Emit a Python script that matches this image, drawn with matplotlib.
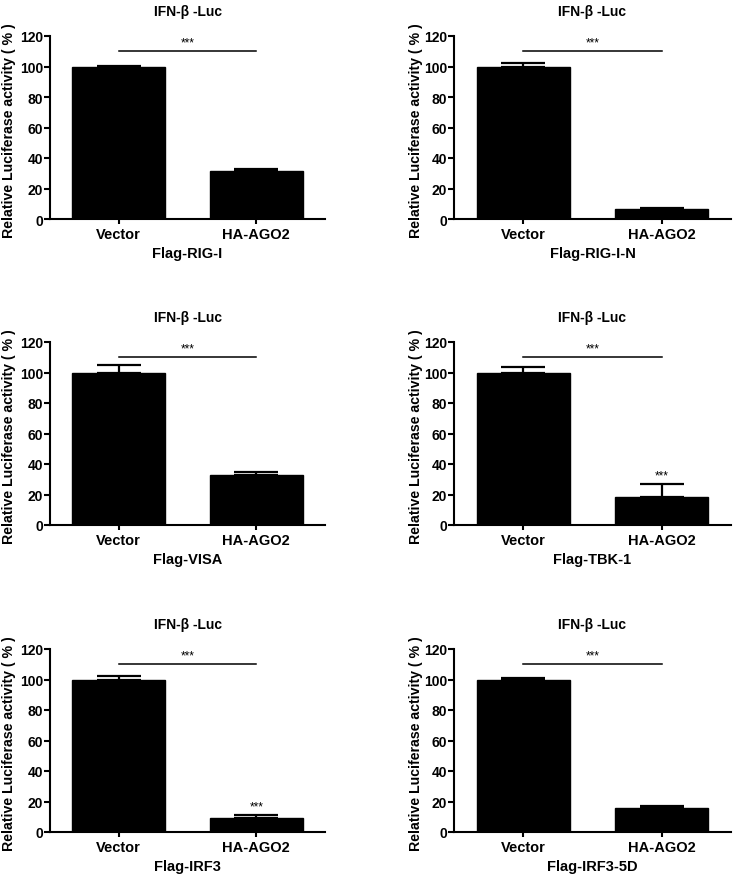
import matplotlib
matplotlib.use("Agg")
from matplotlib import pyplot as plt
import numpy as np

plt.rcParams['font.family'] = ['Liberation Sans', 'DejaVu Sans']
plt.rcParams['font.weight'] = 'bold'

groups = ["Vector", "HA-AGO2"]
panel_labels = ["Flag-RIG-I", "Flag-RIG-I-N", "Flag-VISA", "Flag-TBK-1", "Flag-IRF3", "Flag-IRF3-5D"]

# mean and upper SEM for each panel (Vector, HA-AGO2)
means = [[100, 31.5], [100, 6.5], [100, 32.5], [100, 18.5], [100, 9.5], [100, 16.0]]
errs = [[0.5, 1.0], [2.5, 1.0], [5.0, 2.0], [3.5, 8.5], [2.5, 1.5], [1.0, 1.0]]
# panels with an extra *** over the HA-AGO2 bar
extra_star = [False, False, False, True, True, False]

yticks = [0, 20, 40, 60, 80, 100, 120]
sig_y = 110

fig = plt.figure(figsize=(7.37, 8.79), dpi=100)

W, H = 737.0, 879.0
lefts = [50, 454]
widths = [275, 277]
lab_x = [-0.124, -0.112]
rows = [(37, 220), (343, 526), (650, 833)]

x = np.arange(len(groups))
for i in range(6):
    r, c = i // 2, i % 2
    top, bot = rows[r]
    ax = fig.add_axes([lefts[c] / W, 1 - bot / H, widths[c] / W, (bot - top) / H])
    yerr = [[0, 0], errs[i]]
    ax.bar(x, means[i], width=0.675, color='black', edgecolor='black')
    ax.errorbar(x, means[i], yerr=yerr, fmt='none', ecolor='black',
                elinewidth=1.6, capsize=16, capthick=1.6)
    ax.plot([x[0], x[1]], [sig_y, sig_y], color='black', lw=1.1)
    ax.text(0.5, sig_y + 2, "***", ha='center', va='bottom', fontsize=8.5, fontweight='normal')
    if extra_star[i]:
        ax.text(x[1], means[i][1] + errs[i][1] + 1.5, "***", ha='center', va='bottom',
                fontsize=8.5, fontweight='normal')

    ax.set_xlim(-0.5, 1.5)
    ax.set_ylim(0, 120)
    ax.set_yticks(yticks)
    ax.set_xticks(x)
    ax.set_xticklabels(groups, fontsize=10.5, fontweight='bold')
    ax.tick_params(axis='y', labelsize=10, width=1.5, length=4, pad=1)
    ax.tick_params(axis='x', width=1.5, length=3.5, pad=2)
    for lab in ax.get_yticklabels():
        lab.set_fontweight('bold')
    for s in ['top', 'right']:
        ax.spines[s].set_visible(False)
    for s in ['left', 'bottom']:
        ax.spines[s].set_linewidth(1.5)
    ax.set_ylabel("Relative Luciferase activity ( % )", fontsize=10.2, fontweight='bold')
    ax.yaxis.set_label_coords(lab_x[c], 0.49)
    ax.set_xlabel(panel_labels[i], fontsize=10.5, fontweight='bold', labelpad=4)
    ax.set_title("IFN-β -Luc", fontsize=10, fontweight='bold', pad=15)

fig.savefig("out.png", dpi=100)
